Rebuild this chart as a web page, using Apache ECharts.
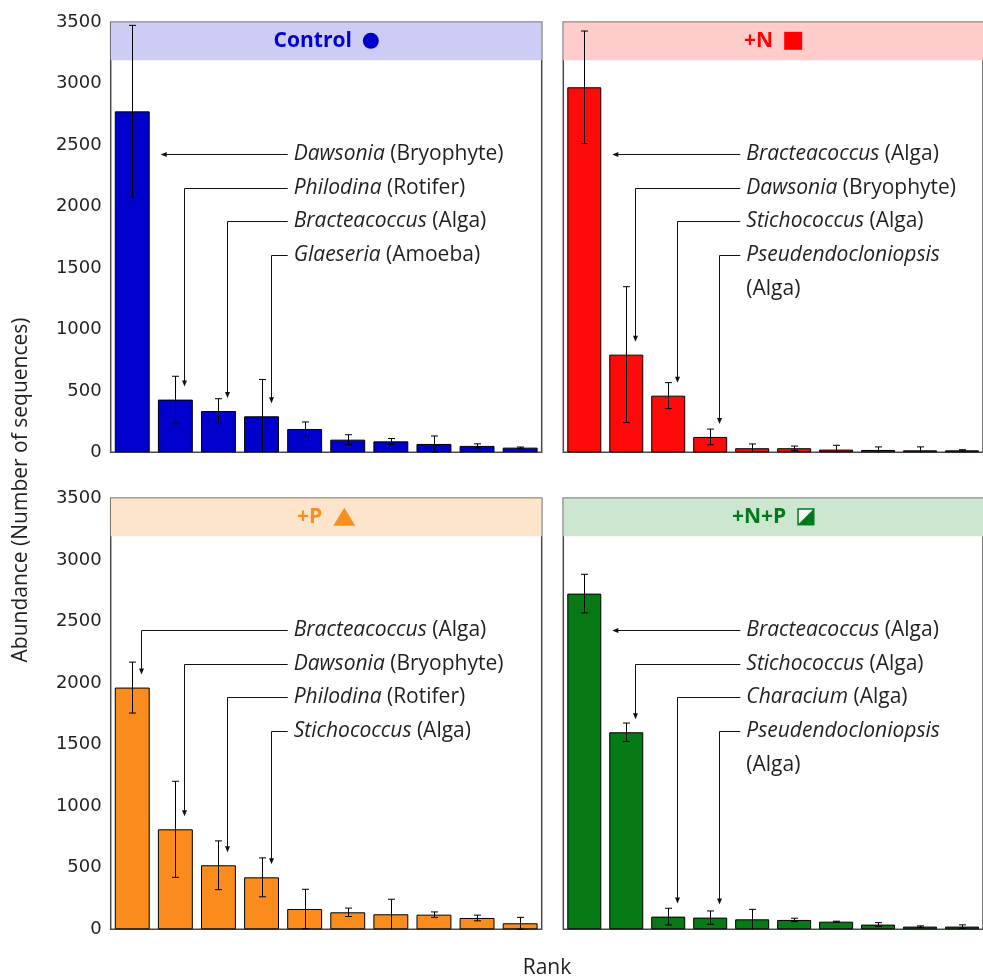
<!DOCTYPE html>
<html><head><meta charset="utf-8">
<script src="https://cdn.jsdelivr.net/npm/echarts@6/dist/echarts.min.js"></script>
<style>html,body{margin:0;padding:0;background:#fff}#c{width:983px;height:979px}</style>
</head><body><div id="c"></div>
<script>
// ---------- data ----------
const ranks = ['1','2','3','4','5','6','7','8','9','10'];
const panelNames = ['Control', '+N', '+P', '+N+P'];

const controlValues = [2775, 429, 336, 293, 190, 103, 89, 68, 52, 38];
const controlErrors = [700, 190, 100, 300, 57, 40, 23, 65, 17, 5];
const nValues = [2971, 795, 461, 125, 33, 33, 22, 19, 16, 16];
const nErrors = [458, 553, 106, 64, 35, 18, 35, 25, 28, 5];
const pValues = [1963, 812, 520, 422, 165, 138, 122, 119, 92, 49];
const pErrors = [207, 390, 198, 158, 160, 34, 122, 22, 23, 48];
const npValues = [2726, 1600, 103, 95, 81, 76, 62, 38, 22, 22];
const npErrors = [157, 75, 68, 54, 81, 14, 4, 16, 6, 14];

const controlTaxa = ['Dawsonia', 'Philodina', 'Bracteacoccus', 'Glaeseria'];
const controlGroups = ['(Bryophyte)', '(Rotifer)', '(Alga)', '(Amoeba)'];
const nTaxa = ['Bracteacoccus', 'Dawsonia', 'Stichococcus', 'Pseudendocloniopsis'];
const nGroups = ['(Alga)', '(Bryophyte)', '(Alga)', '(Alga)'];
const pTaxa = ['Bracteacoccus', 'Dawsonia', 'Philodina', 'Stichococcus'];
const pGroups = ['(Alga)', '(Bryophyte)', '(Rotifer)', '(Alga)'];
const npTaxa = ['Bracteacoccus', 'Stichococcus', 'Characium', 'Pseudendocloniopsis'];
const npGroups = ['(Alga)', '(Alga)', '(Alga)', '(Alga)'];
const annotatedRanks = [0, 1, 2, 3];

// ---------- styling ----------
const barColors = ['#0000cc', '#ff0a0a', '#f98c1d', '#067a14'];
const headerBg = ['#ccccf5', '#ffcccc', '#fde5cc', '#cce6d0'];
const headerFg = ['#0000cc', '#ff0000', '#f7901e', '#007a1a'];
const FONT = '"Open Sans", "Noto Sans", sans-serif';
const TEXT = '#231f20';

const panels = [
  {values: controlValues, errors: controlErrors, taxa: controlTaxa, groups: controlGroups},
  {values: nValues, errors: nErrors, taxa: nTaxa, groups: nGroups},
  {values: pValues, errors: pErrors, taxa: pTaxa, groups: pGroups},
  {values: npValues, errors: npErrors, taxa: npTaxa, groups: npGroups}
];

const layout = [
  {left: 110.7, top: 22.3, width: 431, height: 430},
  {left: 563.3, top: 22.3, width: 431, height: 430},
  {left: 110.7, top: 498.3, width: 431, height: 431},
  {left: 563.3, top: 498.3, width: 431, height: 431}
];

const mctx = document.createElement('canvas').getContext('2d');
function textWidth(str, font) { mctx.font = font; return mctx.measureText(str).width; }

function headerRenderer(i) {
  return function (params, api) {
    const cs = params.coordSys;
    const font = 'bold 21px ' + FONT;
    const tw = textWidth(panelNames[i], font);
    const symW = [16, 18, 22, 17][i];
    const gap = 11;
    const total = tw + gap + symW;
    const x0 = cs.x + cs.width / 2 - total / 2;
    const cy = cs.y + 18.5;
    const sx = x0 + tw + gap;
    const col = headerFg[i];
    const children = [
      {type: 'rect', shape: {x: cs.x, y: cs.y, width: cs.width, height: 38}, style: {fill: headerBg[i]}},
      {type: 'text', x: x0, y: cy, style: {text: panelNames[i], font: font, fill: col, align: 'left', verticalAlign: 'middle'}}
    ];
    if (i === 0) {
      children.push({type: 'circle', shape: {cx: sx + 8, cy: cy, r: 8}, style: {fill: col}});
    } else if (i === 1) {
      children.push({type: 'rect', shape: {x: sx, y: cy - 9, width: 18, height: 18}, style: {fill: col}});
    } else if (i === 2) {
      children.push({type: 'polygon', shape: {points: [[sx, cy + 9], [sx + 22, cy + 9], [sx + 11, cy - 9]]}, style: {fill: col}});
    } else {
      children.push({type: 'rect', shape: {x: sx + 0.75, y: cy - 8.5 + 0.75, width: 15.5, height: 15.5}, style: {fill: '#fff', stroke: col, lineWidth: 1.5}});
      children.push({type: 'polygon', shape: {points: [[sx + 17, cy - 8.5], [sx + 17, cy + 8.5], [sx, cy + 8.5]]}, style: {fill: col}});
    }
    return {type: 'group', children: children};
  };
}

function errorRenderer(params, api) {
  const idx = api.value(0), v = api.value(1), e = api.value(2);
  const lo = Math.max(0, v - e);
  const top = api.coord([idx, v + e]);
  const bot = api.coord([idx, lo]);
  const x = Math.round(top[0]) + 0.5;
  const cap = 3.5;
  const st = {stroke: '#000', lineWidth: 1};
  const children = [
    {type: 'line', shape: {x1: x, y1: top[1], x2: x, y2: bot[1]}, style: st},
    {type: 'line', shape: {x1: x - cap, y1: top[1], x2: x + cap, y2: top[1]}, style: st}
  ];
  if (lo > 0) children.push({type: 'line', shape: {x1: x - cap, y1: bot[1], x2: x + cap, y2: bot[1]}, style: st});
  return {type: 'group', children: children};
}

function annotRenderer(i) {
  const P = panels[i];
  return function (params, api) {
    const cs = params.coordSys;
    const k = params.dataIndex;
    const idx = api.value(0), v = api.value(1), row = api.value(2);
    const rowY = Math.round(cs.y + 132 + row * 33.5) + 0.5;
    const tx = cs.x + 183;
    const lx = tx - 6;
    const p = api.coord([idx, v]);
    const bw = api.size([1, 0])[0] * 0.81;
    const st = {stroke: '#111', lineWidth: 1, fill: null};
    const children = [];
    if (p[1] < rowY) {
      const ax = p[0] + bw / 2 + 11;
      children.push({type: 'polyline', shape: {points: [[lx, rowY], [ax + 2, rowY]]}, style: st});
      children.push({type: 'polygon', shape: {points: [[ax, rowY], [ax + 6, rowY - 2.5], [ax + 6, rowY + 2.5]]}, style: {fill: '#111'}});
    } else {
      const vx = Math.round(p[0] + 9) + 0.5;
      const ty = p[1] - 13;
      children.push({type: 'polyline', shape: {points: [[lx, rowY], [vx, rowY], [vx, ty - 2]]}, style: st});
      children.push({type: 'polygon', shape: {points: [[vx, ty], [vx - 2.5, ty - 6], [vx + 2.5, ty - 6]]}, style: {fill: '#111'}});
    }
    const t = P.taxa[k], g = P.groups[k];
    const str = t.length > 14 ? '{i|' + t + '}\n{r|' + g + '}' : '{i|' + t + '} {r|' + g + '}';
    const base = {fontFamily: FONT, fontSize: 21, fill: TEXT, lineHeight: 33.5};
    children.push({type: 'text', x: tx, y: rowY - 16.75, style: Object.assign({
      text: str, align: 'left', verticalAlign: 'top',
      rich: {i: Object.assign({fontStyle: 'italic'}, base), r: Object.assign({}, base)}
    }, base)});
    return {type: 'group', children: children};
  };
}

const series = [];
panels.forEach((P, i) => {
  series.push({
    type: 'custom', xAxisIndex: i, yAxisIndex: i, z: 1, silent: true,
    renderItem: headerRenderer(i), data: [[0, 3500]], encode: {x: 0, y: 1}
  });
  series.push({
    type: 'bar', xAxisIndex: i, yAxisIndex: i, z: 2, data: P.values,
    barCategoryGap: '19%',
    itemStyle: {color: barColors[i], borderColor: '#000', borderWidth: 1}
  });
  series.push({
    type: 'custom', xAxisIndex: i, yAxisIndex: i, z: 3, silent: true,
    renderItem: errorRenderer, encode: {x: 0, y: 1},
    data: P.values.map((v, j) => [j, v, P.errors[j]])
  });
  series.push({
    type: 'custom', xAxisIndex: i, yAxisIndex: i, z: 4, silent: true,
    renderItem: annotRenderer(i), encode: {x: 0, y: 1},
    data: annotatedRanks.map((r, k) => [r, P.values[r], k])
  });
});

const option = {
  animation: false,
  backgroundColor: '#fff',
  grid: layout.map(g => Object.assign({show: true, borderColor: '#4a4a4a', borderWidth: 1.5, backgroundColor: '#fff'}, g)),
  xAxis: layout.map((g, i) => ({
    type: 'category', gridIndex: i, data: ranks,
    axisLine: {show: false}, axisTick: {show: false}, axisLabel: {show: false}
  })),
  yAxis: layout.map((g, i) => ({
    type: 'value', gridIndex: i, min: 0, max: 3500, interval: 500,
    axisLine: {show: false}, axisTick: {show: false}, splitLine: {show: false},
    axisLabel: {show: i % 2 === 0, fontFamily: 'DejaVu Sans', fontSize: 18, color: TEXT, margin: 9,
                formatter: v => String(v)}
  })),
  graphic: [
    {type: 'text', x: 21, y: 490, rotation: Math.PI / 2,
     style: {text: 'Abundance (Number of sequences)', font: '21px ' + FONT, fill: TEXT, align: 'center', verticalAlign: 'middle'}},
    {type: 'text', x: 547, y: 968,
     style: {text: 'Rank', font: '21px ' + FONT, fill: TEXT, align: 'center', verticalAlign: 'middle'}}
  ],
  series: series
};

const chart = echarts.init(document.getElementById('c'));
chart.setOption(option);
</script>
</body></html>
